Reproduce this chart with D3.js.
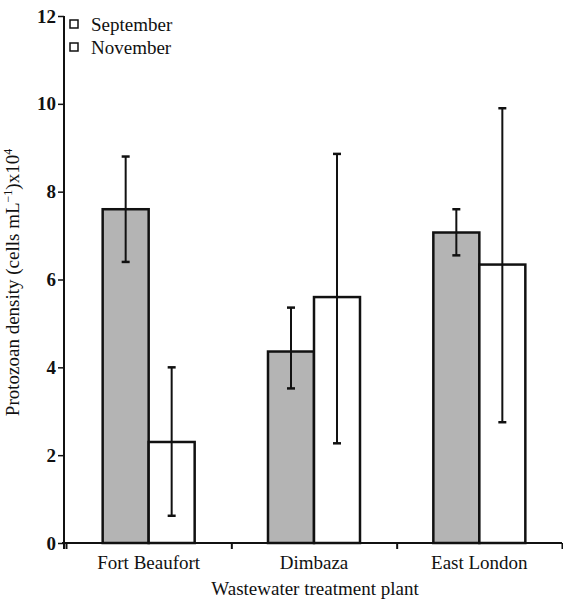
<!DOCTYPE html>
<html>
<head>
<meta charset="utf-8">
<script src="https://cdn.jsdelivr.net/npm/d3@7"></script>
<style>
  body { margin: 0; background: #fff; }
  svg text { font-family: "Times New Roman", Times, "Liberation Serif", "DejaVu Serif", serif; fill: #111; }
</style>
</head>
<body>
<div id="chart"></div>
<script>
// data
var plants = ["Fort Beaufort", "Dimbaza", "East London"];
var seriesNames = ["September", "November"];
var september = [7.6, 4.36, 7.07];
var septemberErrLow = [6.4, 3.52, 6.55];
var septemberErrHigh = [8.8, 5.36, 7.6];
var november = [2.3, 5.6, 6.34];
var novemberErrLow = [0.62, 2.27, 2.75];
var novemberErrHigh = [4.0, 8.86, 9.9];
var yTicks = [0, 2, 4, 6, 8, 10, 12];

var svgWidth = 563;
var svgHeight = 602;
var margin = { top: 16, right: 1, bottom: 59, left: 64 };
var width = svgWidth - margin.left - margin.right;
var height = svgHeight - margin.top - margin.bottom;

var svg = d3.select("#chart")
  .append("svg")
  .attr("width", svgWidth)
  .attr("height", svgHeight);

var chartGroup = svg.append("g")
  .attr("transform", `translate(${margin.left}, ${margin.top})`);

// build rows from the arrays
var rows = plants.map(function(p, i) {
  return {
    plant: p,
    values: [
      { series: seriesNames[0], value: september[i], lo: septemberErrLow[i], hi: septemberErrHigh[i] },
      { series: seriesNames[1], value: november[i], lo: novemberErrLow[i], hi: novemberErrHigh[i] }
    ]
  };
});

// scales
var x0 = d3.scaleBand().domain(plants).range([2, width]).paddingInner(0).paddingOuter(0);
var x1 = d3.scaleBand().domain(seriesNames)
  .range([(x0.bandwidth() - 92) / 2, (x0.bandwidth() + 92) / 2]);
var xEdges = d3.scaleLinear().domain([0, plants.length]).range([2, width]);
var yScale = d3.scaleLinear().domain([0, 12]).range([height, 0]);
var fill = d3.scaleOrdinal().domain(seriesNames).range(["#b4b4b4", "#ffffff"]);

// bars
var groups = chartGroup.selectAll(".plant")
  .data(rows)
  .enter()
  .append("g")
  .attr("transform", d => `translate(${x0(d.plant)}, 0)`);

groups.selectAll("rect")
  .data(d => d.values)
  .enter()
  .append("rect")
  .attr("x", d => x1(d.series))
  .attr("y", d => yScale(d.value))
  .attr("width", x1.bandwidth())
  .attr("height", d => height - yScale(d.value))
  .attr("fill", d => fill(d.series))
  .attr("stroke", "#111")
  .attr("stroke-width", 2.5);

// error bars
var err = groups.selectAll(".err")
  .data(d => d.values)
  .enter()
  .append("g")
  .attr("stroke", "#111")
  .attr("stroke-width", 2);

err.append("line")
  .attr("x1", d => x1(d.series) + x1.bandwidth() / 2)
  .attr("x2", d => x1(d.series) + x1.bandwidth() / 2)
  .attr("y1", d => yScale(d.lo))
  .attr("y2", d => yScale(d.hi));
err.append("line")
  .attr("x1", d => x1(d.series) + x1.bandwidth() / 2 - 4)
  .attr("x2", d => x1(d.series) + x1.bandwidth() / 2 + 4)
  .attr("y1", d => yScale(d.hi))
  .attr("y2", d => yScale(d.hi))
  .attr("stroke-width", 2.5);
err.append("line")
  .attr("x1", d => x1(d.series) + x1.bandwidth() / 2 - 4)
  .attr("x2", d => x1(d.series) + x1.bandwidth() / 2 + 4)
  .attr("y1", d => yScale(d.lo))
  .attr("y2", d => yScale(d.lo))
  .attr("stroke-width", 2.5);

// y axis
var leftAxis = d3.axisLeft(yScale).tickValues(yTicks).tickSize(6).tickPadding(2);
var yAxisG = chartGroup.append("g").call(leftAxis).attr("font-family", null);
yAxisG.select(".domain").attr("stroke", "#111").attr("stroke-width", 2)
  .attr("d", `M0,0V${height + 6}`);
yAxisG.selectAll(".tick line").attr("stroke", "#111").attr("stroke-width", 1.5);
yAxisG.selectAll("text").style("font-size", "19px").style("font-weight", "bold");

// x axis: boundary ticks + category labels
var edgeAxis = d3.axisBottom(xEdges).tickValues(d3.range(plants.length + 1)).tickSize(6).tickFormat("");
var xEdgeG = chartGroup.append("g")
  .attr("transform", `translate(0, ${height})`)
  .call(edgeAxis);
xEdgeG.select(".domain").attr("stroke", "#111").attr("stroke-width", 2)
  .attr("d", `M-2,0H${width}`);
xEdgeG.selectAll(".tick line").attr("stroke", "#111").attr("stroke-width", 2);

var bottomAxis = d3.axisBottom(x0).tickSize(0).tickPadding(13);
var xAxisG = chartGroup.append("g")
  .attr("transform", `translate(0, ${height})`)
  .call(bottomAxis)
  .attr("font-family", null);
xAxisG.select(".domain").remove();
xAxisG.selectAll("text").style("font-size", "19px");

// axis titles
var yTitle = chartGroup.append("text")
  .attr("transform", `translate(${-45}, ${height / 2 + 3}) rotate(-90)`)
  .attr("text-anchor", "middle")
  .style("font-size", "19px");
yTitle.append("tspan").text("Protozoan density (cells mL");
yTitle.append("tspan").attr("dy", -7).style("font-size", "12px").text("\u22121");
yTitle.append("tspan").attr("dy", 7).text(")x10");
yTitle.append("tspan").attr("dy", -7).style("font-size", "12px").text("4");

chartGroup.append("text")
  .attr("x", width / 2 + 2)
  .attr("y", height + 52)
  .attr("text-anchor", "middle")
  .style("font-size", "19px")
  .text("Wastewater treatment plant");

// legend
var legend = svg.append("g").attr("transform", "translate(70, 18)");
var items = legend.selectAll(".item")
  .data(seriesNames)
  .enter()
  .append("g")
  .attr("transform", (d, i) => `translate(0, ${i * 23})`);
items.append("rect")
  .attr("x", 0).attr("y", 2)
  .attr("width", 8).attr("height", 8)
  .attr("fill", "#fff")
  .attr("stroke", "#111")
  .attr("stroke-width", 1.5);
items.append("text")
  .attr("x", 21).attr("y", 13)
  .style("font-size", "19px")
  .text(d => d);
</script>
</body>
</html>
